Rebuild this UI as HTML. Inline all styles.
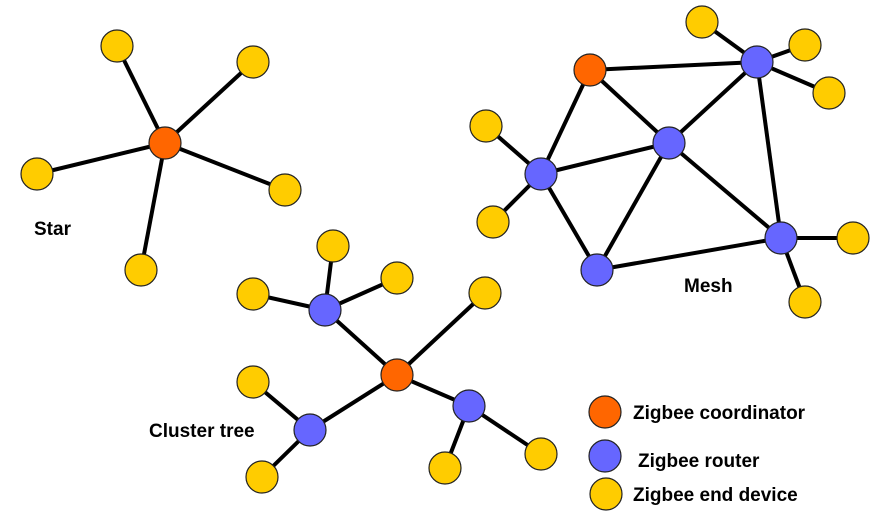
<!DOCTYPE html>
<html><head><meta charset="utf-8"><style>
html,body{margin:0;padding:0;background:#fff;}
svg{display:block;}
text{font-family:"Liberation Sans",sans-serif;font-weight:bold;font-size:19px;fill:#000;}
</style></head><body>
<svg width="887" height="527" viewBox="0 0 887 527" xmlns="http://www.w3.org/2000/svg">
<g stroke="#000" stroke-width="4" fill="none">
<line x1="165" y1="143" x2="117" y2="46"/><line x1="165" y1="143" x2="253" y2="62"/>
<line x1="165" y1="143" x2="37" y2="174"/><line x1="165" y1="143" x2="285" y2="190"/>
<line x1="165" y1="143" x2="141" y2="270"/>
<line x1="590" y1="70" x2="757" y2="62"/><line x1="590" y1="70" x2="669" y2="143"/>
<line x1="590" y1="70" x2="541" y2="174"/><line x1="757" y1="62" x2="669" y2="143"/>
<line x1="757" y1="62" x2="781" y2="238"/><line x1="669" y1="143" x2="541" y2="174"/>
<line x1="669" y1="143" x2="597" y2="270"/><line x1="669" y1="143" x2="781" y2="238"/>
<line x1="541" y1="174" x2="597" y2="270"/><line x1="597" y1="270" x2="781" y2="238"/>
<line x1="541" y1="174" x2="486" y2="126"/><line x1="541" y1="174" x2="493" y2="222"/>
<line x1="757" y1="62" x2="702" y2="22"/><line x1="757" y1="62" x2="805" y2="45"/>
<line x1="757" y1="62" x2="829" y2="93"/><line x1="781" y1="238" x2="853" y2="238"/>
<line x1="781" y1="238" x2="805" y2="302"/>
<line x1="397" y1="375" x2="325" y2="310"/><line x1="397" y1="375" x2="310" y2="430"/>
<line x1="397" y1="375" x2="469" y2="406"/><line x1="397" y1="375" x2="485" y2="293"/>
<line x1="325" y1="310" x2="333" y2="246"/><line x1="325" y1="310" x2="397" y2="278"/>
<line x1="325" y1="310" x2="253" y2="294"/><line x1="310" y1="430" x2="253" y2="382"/>
<line x1="310" y1="430" x2="262" y2="477"/><line x1="469" y1="406" x2="445" y2="468"/>
<line x1="469" y1="406" x2="541" y2="454"/>
</g>
<g stroke="#222" stroke-width="1.2">
<g fill="#FFCC00">
<circle cx="117" cy="46" r="16"/><circle cx="253" cy="62" r="16"/><circle cx="37" cy="174" r="16"/>
<circle cx="285" cy="190" r="16"/><circle cx="141" cy="270" r="16"/>
<circle cx="702" cy="22" r="16"/><circle cx="805" cy="45" r="16"/><circle cx="829" cy="93" r="16"/>
<circle cx="486" cy="126" r="16"/><circle cx="493" cy="222" r="16"/><circle cx="853" cy="238" r="16"/>
<circle cx="805" cy="302" r="16"/>
<circle cx="333" cy="246" r="16"/><circle cx="397" cy="278" r="16"/><circle cx="253" cy="294" r="16"/>
<circle cx="485" cy="293" r="16"/><circle cx="253" cy="382" r="16"/><circle cx="262" cy="477" r="16"/>
<circle cx="445" cy="468" r="16"/><circle cx="541" cy="454" r="16"/>
<circle cx="606" cy="494" r="16"/>
</g>
<g fill="#6666FF">
<circle cx="757" cy="62" r="16"/><circle cx="669" cy="143" r="16"/><circle cx="541" cy="174" r="16"/>
<circle cx="781" cy="238" r="16"/><circle cx="597" cy="270" r="16"/>
<circle cx="325" cy="310" r="16"/><circle cx="310" cy="430" r="16"/><circle cx="469" cy="406" r="16"/>
<circle cx="605" cy="456" r="16"/>
</g>
<g fill="#FF6600">
<circle cx="165" cy="143" r="16"/><circle cx="590" cy="70" r="16"/><circle cx="397" cy="375" r="16"/>
<circle cx="605" cy="412" r="16"/>
</g>
</g>
<text x="34" y="235">Star</text>
<text x="684" y="292">Mesh</text>
<text x="149" y="437">Cluster tree</text>
<text x="633" y="419">Zigbee coordinator</text>
<text x="638" y="467">Zigbee router</text>
<text x="633" y="501">Zigbee end device</text>
</svg>
</body></html>
